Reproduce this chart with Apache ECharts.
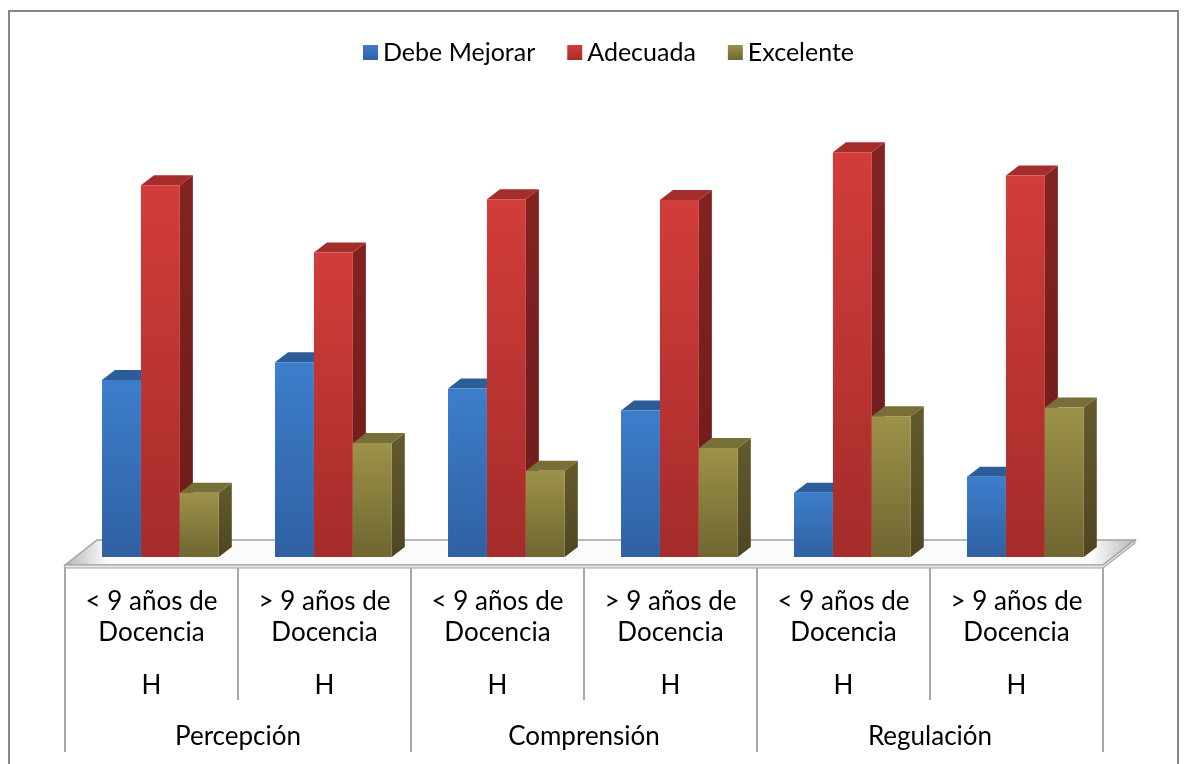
<!DOCTYPE html>
<html>
<head>
<meta charset="utf-8">
<script src="https://cdn.jsdelivr.net/npm/echarts@6/dist/echarts.min.js"></script>
<style>
  html, body { margin: 0; padding: 0; background: #ffffff; }
  #chart { width: 1186px; height: 764px; }
</style>
</head>
<body>
<div id="chart"></div>
<script>
// Years-of-teaching groups (first label row), sex row and dimension groups
const experienceLabels = [
  '< 9 años de\nDocencia', '> 9 años de\nDocencia',
  '< 9 años de\nDocencia', '> 9 años de\nDocencia',
  '< 9 años de\nDocencia', '> 9 años de\nDocencia'
];
const sexLabels = ['H', 'H', 'H', 'H', 'H', 'H'];
const dimensionLabels = ['Percepción', 'Comprensión', 'Regulación'];

// Percentages per level
const seriesNames = ['Debe Mejorar', 'Adecuada', 'Excelente'];
const debeMejorar = [28.9, 31.8, 27.5, 23.9, 10.5, 13.1];
const adecuada    = [60.7, 49.7, 58.4, 58.3, 66.1, 62.3];
const excelente   = [10.5, 18.6, 14.1, 17.8, 23.0, 24.4];

const FONT = 'Lato';
const LG = echarts.graphic.LinearGradient;

// Face colours for each series: front (top->bottom), side, top
const palette = [
  { front: ['#3d7ecb', '#2f60a2'], side: ['#2c5a95', '#244b7e'], top: '#2d5d99' },
  { front: ['#d23d3a', '#a42c2a'], side: ['#822321', '#6b1c1b'], top: '#a52d2b' },
  { front: ['#9d9249', '#6f6631'], side: ['#635b2c', '#4d4622'], top: '#786e37' }
];

const DEPTH_X = 13, DEPTH_Y = 10;

function barRenderer(idx) {
  const p = palette[idx];
  return function (params, api) {
    const cat = api.value(0);
    const val = api.value(1);
    const base = api.coord([cat, 0]);
    const top = api.coord([cat, val]);
    const band = api.size([1, 0])[0];
    const w = band * 0.225;
    const x0 = base[0] - band * 0.5 + band * 0.214 + idx * w;
    const x1 = x0 + w;
    const yb = base[1];
    const yt = top[1];
    return {
      type: 'group',
      children: [
        {
          type: 'polygon',
          shape: { points: [[x1, yb], [x1, yt], [x1 + DEPTH_X, yt - DEPTH_Y], [x1 + DEPTH_X, yb - DEPTH_Y]] },
          style: { fill: new LG(0, 0, 0, 1, [{ offset: 0, color: p.side[0] }, { offset: 1, color: p.side[1] }]) }
        },
        {
          type: 'polygon',
          shape: { points: [[x0, yt], [x1, yt], [x1 + DEPTH_X, yt - DEPTH_Y], [x0 + DEPTH_X, yt - DEPTH_Y]] },
          style: { fill: p.top }
        },
        {
          type: 'rect',
          shape: { x: x0, y: yt, width: w, height: yb - yt },
          style: { fill: new LG(0, 0, 0, 1, [{ offset: 0, color: p.front[0] }, { offset: 1, color: p.front[1] }]) }
        }
      ]
    };
  };
}

// Floor slab under the bars, built from the plot rectangle
function floorRenderer(params, api) {
  const cs = params.coordSys;
  const left = cs.x, right = cs.x + cs.width, base = cs.y + cs.height;
  const yf = base + 8, yk = base - 17, dx = 32;
  return {
    type: 'group',
    children: [
      {
        type: 'polygon',
        shape: { points: [[left, yf], [left + dx, yk], [right + dx, yk], [right, yf]] },
        style: {
          fill: new LG(0, 0, 1, 0, [
            { offset: 0, color: '#b5b5b5' }, { offset: 0.04, color: '#fbfbfb' },
            { offset: 0.96, color: '#fbfbfb' }, { offset: 1, color: '#b5b5b5' }
          ]),
          stroke: '#a3a3a3', lineWidth: 1.5
        }
      },
      {
        type: 'polygon',
        shape: { points: [[left, yf], [right, yf], [right + dx, yk], [right + dx, yk + 3], [right, yf + 3], [left, yf + 3]] },
        style: { fill: '#e6e6e6', stroke: '#a3a3a3', lineWidth: 1.2 }
      }
    ]
  };
}

const valueSets = [debeMejorar, adecuada, excelente];
const barSeries = valueSets.map((vals, i) => ({
  name: seriesNames[i],
  type: 'custom',
  xAxisIndex: 0,
  yAxisIndex: 0,
  renderItem: barRenderer(i),
  itemStyle: { color: new LG(0, 0, 0, 1, [{ offset: 0, color: palette[i].front[0] }, { offset: 1, color: palette[i].front[1] }]) },
  encode: { x: 0, y: 1 },
  data: vals.map((v, k) => [k, v]),
  silent: true
}));

const labelStyle = { fontFamily: FONT, fontSize: 26, color: '#000000', lineHeight: 31 };

const option = {
  animation: false,
  backgroundColor: '#ffffff',
  graphic: [{
    type: 'rect',
    shape: { x: 9, y: 11, width: 1169, height: 800 },
    style: { fill: 'none', stroke: '#878787', lineWidth: 2 },
    silent: true
  }],
  legend: {
    data: seriesNames,
    left: 358,
    top: 35,
    icon: 'rect',
    itemWidth: 15,
    itemHeight: 15,
    itemGap: 32,
    textStyle: { fontFamily: FONT, fontSize: 25, color: '#000000' }
  },
  grid: [
    { left: 65, right: 83, top: 128.25, bottom: 207 },
    { left: 65, right: 83, top: 400, bottom: 197 }
  ],
  xAxis: [
    {
      gridIndex: 0, type: 'category', data: experienceLabels,
      axisLine: { show: false }, axisTick: { show: false }, axisLabel: { show: false }
    },
    {
      gridIndex: 1, type: 'category', data: experienceLabels, position: 'bottom',
      axisLine: { show: false },
      axisTick: { show: true, length: 133, lineStyle: { color: '#8c8c8c', width: 1.5 } },
      axisLabel: Object.assign({ interval: 0, margin: 19 }, labelStyle)
    },
    {
      gridIndex: 1, type: 'category', data: sexLabels, position: 'bottom',
      axisLine: { show: false }, axisTick: { show: false },
      axisLabel: Object.assign({ interval: 0, margin: 103 }, labelStyle)
    },
    {
      gridIndex: 1, type: 'category', data: dimensionLabels, position: 'bottom',
      axisLine: { show: false },
      axisTick: { show: true, length: 185, lineStyle: { color: '#8c8c8c', width: 1.5 } },
      axisLabel: Object.assign({ interval: 0, margin: 154 }, labelStyle)
    }
  ],
  yAxis: [
    { gridIndex: 0, type: 'value', min: 0, max: 70, show: false },
    { gridIndex: 1, type: 'value', min: 0, max: 1, show: false }
  ],
  series: [
    {
      name: 'floor', type: 'custom', xAxisIndex: 0, yAxisIndex: 0,
      renderItem: floorRenderer, data: [[0, 0]], silent: true, z: 1
    }
  ].concat(barSeries)
};

echarts.init(document.getElementById('chart'), null, { renderer: 'canvas' }).setOption(option);
</script>
</body>
</html>
